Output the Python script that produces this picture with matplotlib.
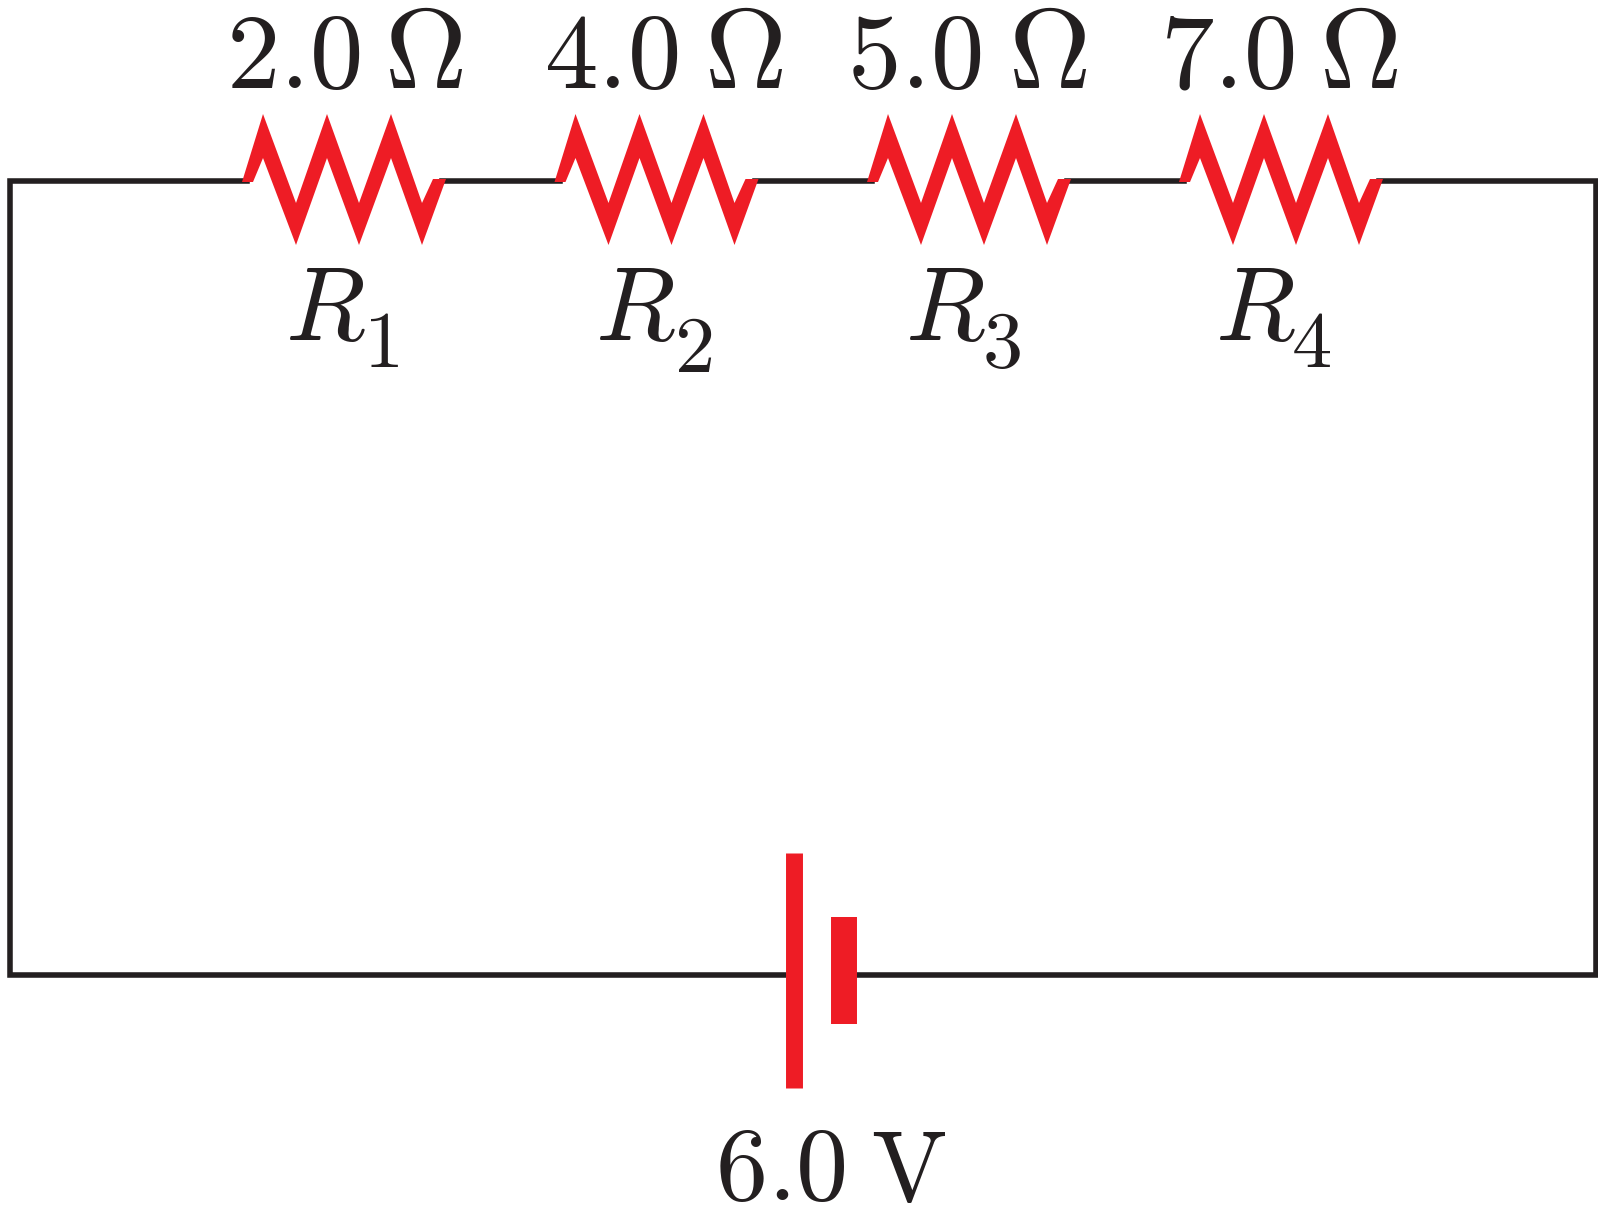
from matplotlib import pyplot as plt
import numpy as np

plt.rcParams['mathtext.fontset'] = 'cm'

W, H = 1598, 1211
RED = '#ee1c25'
INK = '#231f20'

# values shown in the circuit
resistor_subs = ['1', '2', '3', '4']
resistor_ohms = ['2.0', '4.0', '5.0', '7.0']
battery_volts = '6.0'

# left end of each resistor zigzag, in image pixels
resistor_x = [242, 554.5, 867, 1179]
# label anchors, in image pixels
ohm_right = [360, 678, 981, 1294]
omega_left = [384, 704, 1008, 1319]
r_left = [285, 595, 905, 1215]
sub_left = [363, 674, 982, 1291]
sub_base = [367, 372, 367, 367]
# outline of one zigzag, relative to its left end and the wire
zig_dx = np.array([0, 21, 54, 85, 117, 149, 180, 191, 204, 180, 149, 117, 85, 54, 21, 11])
zig_dy = np.array([1, -67, 22, -67, 22, -67, 22, -2, -2, 64, -23, 64, -23, 64, -23, 1])

fig = plt.figure(figsize=(W / 100, H / 100), dpi=100)
ax = fig.add_axes([0, 0, 1, 1])
ax.set_xlim(0, W)
ax.set_ylim(H, 0)
ax.axis('off')

top, bottom, left, right = 181, 975, 10, 1596
lw = 4.0

# wire
wire_x = [resistor_x[0] + 5, left, left, 785]
wire_y = [top, top, bottom, bottom]
ax.plot(wire_x, wire_y, color=INK, lw=lw, solid_joinstyle='miter', zorder=1)
wire_x = [857, right, right, resistor_x[-1] + 200]
wire_y = [bottom, bottom, top, top]
ax.plot(wire_x, wire_y, color=INK, lw=lw, solid_joinstyle='miter', zorder=1)
for a, b in zip(resistor_x[:-1], resistor_x[1:]):
    ax.plot([a + 200, b + 5], [top, top], color=INK, lw=lw, zorder=1)

for i, x0 in enumerate(resistor_x):
    ax.fill(x0 + zig_dx, top + zig_dy, color=RED, lw=0, zorder=2)
    ax.text(ohm_right[i], 88, rf'$\mathrm{{{resistor_ohms[i]}}}$', fontsize=77, color=INK,
            ha='right', va='baseline')
    ax.text(omega_left[i], 88, r'$\mathrm{\Omega}$', fontsize=82, color=INK,
            ha='left', va='baseline')
    ax.text(r_left[i], 340, '$R$', fontsize=75, color=INK, ha='left', va='baseline')
    ax.text(sub_left[i], sub_base[i], f'${resistor_subs[i]}$', fontsize=58, color=INK,
            ha='left', va='baseline')

# battery plates
ax.plot([793.5, 793.5], [853, 1088], color=RED, lw=12.2, solid_capstyle='butt', zorder=3)
ax.plot([844, 844], [917, 1024], color=RED, lw=18.7, solid_capstyle='butt', zorder=3)
ax.text(846, 1200, rf'$\mathrm{{{battery_volts}}}$', fontsize=75, color=INK,
        ha='right', va='baseline')
ax.text(871, 1200, r'$\mathrm{V}$', fontsize=72, color=INK, ha='left', va='baseline')

fig.savefig('out.png', dpi=100)
